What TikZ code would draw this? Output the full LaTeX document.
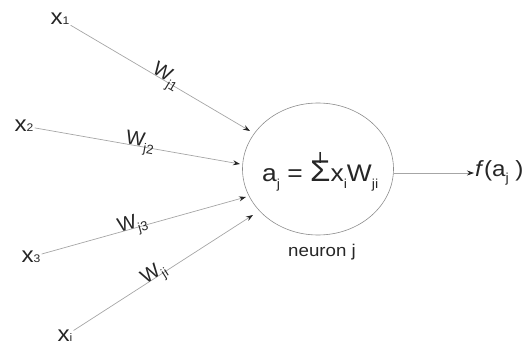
\documentclass[tikz,border=0pt]{standalone}
\usepackage{fontspec}
\setmainfont{Liberation Sans}
\usetikzlibrary{arrows.meta,shapes.geometric}
\newcommand{\hstr}[1]{\scalebox{1.1}[1]{#1}}
\newcommand{\sbs}[1]{\raisebox{-0.28em}{\fontsize{13}{13}\selectfont #1}}
\begin{document}
\begin{tikzpicture}[x=1pt,y=-1pt,
  xlbl/.style={text=black!85, inner sep=1pt, font=\fontsize{22}{22}\selectfont},
  conn/.style={draw=black!35, line width=0.7pt, -{Stealth[length=7pt,width=5pt,black!85]}},
  wlbl/.style={sloped, anchor=base, inner sep=0pt, text=black!85, font=\fontsize{20}{20}\selectfont},
  ]
\useasboundingbox (0,0) rectangle (524,347);
% inputs
\node[xlbl] (x1) at (60,19) {\hstr{x{\fontsize{11}{11}\selectfont 1}}};
\node[xlbl] (x2) at (24,126) {\hstr{x{\fontsize{11}{11}\selectfont 2}}};
\node[xlbl] (x3) at (31,257) {\hstr{x{\fontsize{11}{11}\selectfont 3}}};
\node[xlbl] (xi) at (65,336) {\hstr{x{\fontsize{11}{11}\selectfont i}}};
% neuron
\node[draw=black!45, line width=0.6pt, ellipse, minimum width=151, minimum height=132, inner sep=0] (neuron) at (318,169) {};
\node[anchor=base west, inner sep=0, text=black!85, font=\fontsize{24}{24}\selectfont] (eq) at (262,182)
  {\hstr{a\sbs{j} = \begin{tabular}[b]{@{}c@{}}{\fontsize{16}{16}\selectfont I}\\[-9pt]{\fontsize{30}{30}\selectfont Σ}\end{tabular}x\sbs{i}W\sbs{ji}}};
\node[text=black!85, inner sep=1pt, font=\fontsize{17}{17}\selectfont] (nj) at (322,252) {\hstr{neuron j}};
% arrow ends
\coordinate (e1) at (250,131);
\coordinate (e2) at (240,164);
\coordinate (e3) at (246,197);
\coordinate (e4) at (253,215);
% output
\node[anchor=west, inner sep=1pt, text=black!85, font=\fontsize{22}{22}\selectfont] (fa) at (474,173)
  {\hstr{\textit{f}(a\sbs{j} )}};
% connectors
\draw[conn] (x1) -- node[wlbl, pos=0.52] {W\sbs{j1}} (e1);
\draw[conn] (x2) -- node[wlbl, pos=0.51] {W\sbs{j2}} (e2);
\draw[conn] (x3) -- node[wlbl, pos=0.45] {W\sbs{j3}} (e3);
\draw[conn] (xi) -- node[wlbl, pos=0.46] {W\sbs{ji}} (e4);
\draw[conn] (neuron.east |- fa.west) -- (fa.west);
\end{tikzpicture}
\end{document}
